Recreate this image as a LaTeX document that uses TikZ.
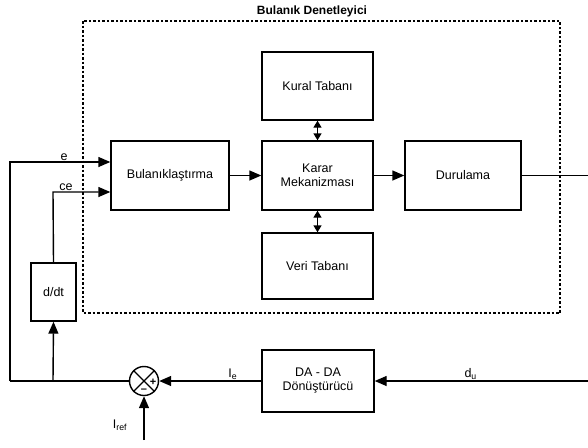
\documentclass[tikz,border=0pt]{standalone}
\usepackage{fontspec}
\setmainfont{Liberation Sans}
\usepackage{tikz}
\usetikzlibrary{arrows.meta}

\begin{document}
\begin{tikzpicture}[
    x=1pt, y=-1pt,
    font=\fontsize{12.5}{14}\selectfont,
    block/.style={rectangle,draw,line width=1.4pt,align=center,inner sep=1pt},
    sig/.style={line width=1.4pt,-{Triangle[length=12pt,width=10pt]}},
    wire/.style={line width=1.4pt},
    both/.style={line width=1.4pt,{Triangle[length=7pt,width=8pt]}-{Triangle[length=7pt,width=8pt]}},
    lbl/.style={inner sep=1pt},
    ]
  \useasboundingbox (0,0) rectangle (588,447);

  % denetleyici cercevesi
  \draw[line width=1.2pt, dash pattern=on 2.5pt off 2pt] (83,21) rectangle (560,313);
  \node[font=\fontsize{12}{14}\selectfont\bfseries] (title) at (312,11) {Bulanık Denetleyici};

  \node[block, minimum width=111pt, minimum height=68pt] (kural) at (317.5,86) {Kural Tabanı};
  \node[block, minimum width=111pt, minimum height=69pt] (karar) at (317.5,175.5) {Karar\\Mekanizması};
  \node[block, minimum width=111pt, minimum height=66pt] (veri) at (317.5,266) {Veri Tabanı};
  \node[block, minimum width=118pt, minimum height=69pt] (bulan) at (170,175.5) {Bulanıklaştırma};
  \node[block, minimum width=116pt, minimum height=69pt] (durul) at (463,175.5) {Durulama};

  \node[block, minimum width=45pt, minimum height=58pt] (ddt) at (53.5,292) {d/dt};
  \node[block, minimum width=112pt, minimum height=62pt] (dada) at (318,381) {DA - DA\\Dönüştürücü};
  \node[circle, draw, line width=1.4pt, minimum size=29pt, inner sep=0pt] (sum) at (144,381) {};
  \node[inner sep=0pt, font=\fontsize{11}{11}\selectfont\bfseries] (plus) at (153,382) {+};
  \node[inner sep=0pt, font=\fontsize{11}{11}\selectfont\bfseries] (minus) at (144,391) {--};

  \coordinate (eLeft) at (10,162);
  \coordinate (ceLeft) at (53,192);
  \coordinate (fbLeft) at (10,381);
  \coordinate (fbMid) at (53,381);
  \coordinate (outEnd) at (588,175.5);
  \coordinate (duEnd) at (588,381);
  \coordinate (refEnd) at (144,440);

  \draw[wire] (sum.north east) -- (sum.south west);
  \draw[wire] (sum.north west) -- (sum.south east);

  \draw[sig] (bulan) -- (karar);
  \draw[sig] (karar) -- (durul);
  \draw[both] (kural) -- (karar);
  \draw[both] (karar) -- (veri);
  \draw[wire] (durul.east) -- (outEnd);

  \draw[sig] (fbLeft) -- (eLeft) -- (bulan.west |- eLeft);
  \node[lbl, above] (eLbl) at (64,162) {e};
  \draw[sig] (ddt.north) -- (ceLeft) -- (bulan.west |- ceLeft);
  \node[lbl, above] (ceLbl) at (66,192) {ce};
  \draw[wire] (fbLeft) -- (sum.west);
  \draw[sig] (fbMid) -- (ddt.south);

  \draw[sig] (dada.west) -- (sum.east)
    node[lbl, pos=0.28, above] (ieLbl) {I$_{\mathrm e}$};
  \draw[sig] (duEnd) -- (dada.east)
    node[lbl, pos=0.55, above] (duLbl) {d$_{\mathrm u}$};
  \draw[sig] (refEnd) -- (sum.south);
  \node[lbl] (irefLbl) at (120,425) {I$_{\mathrm{ref}}$};
\end{tikzpicture}
\end{document}
